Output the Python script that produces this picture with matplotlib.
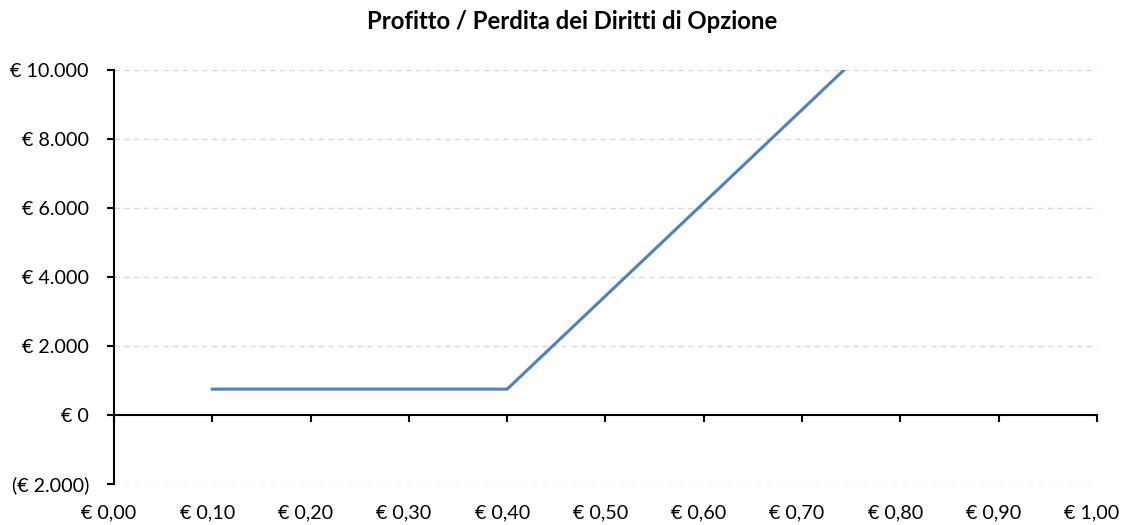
import matplotlib
matplotlib.use("Agg")
import matplotlib.pyplot as plt
from matplotlib.ticker import FuncFormatter, MultipleLocator
from matplotlib.transforms import ScaledTranslation

plt.rcParams['font.family'] = ['Lato', 'DejaVu Sans']

# prezzo del diritto e profitto/perdita
prezzi = [0.10, 0.20, 0.30, 0.40, 0.50, 0.60, 0.70, 0.80]
profitto = [750, 750, 750, 750, 3450, 6150, 8850, 11550]

titolo = "Profitto / Perdita dei Diritti di Opzione"


def fmt_euro(v, pos):
    s = f"{abs(v):,.0f}".replace(",", ".")
    if v < 0:
        return f"(€ {s})"
    return f"€ {s}"


def fmt_prezzo(v, pos):
    return "€ " + f"{v:.2f}".replace(".", ",")


fig = plt.figure(figsize=(11.22, 5.25), dpi=100)
ax = fig.add_axes([0.1016, 0.0781, 0.8761, 0.7886])

ax.plot(prezzi, profitto, color="#4F81BD", lw=2.2, zorder=3)

ax.set_xlim(0, 1.0)
ax.set_ylim(-2000, 10000)
ax.yaxis.set_major_locator(MultipleLocator(2000))
ax.xaxis.set_major_locator(MultipleLocator(0.1))
ax.yaxis.set_major_formatter(FuncFormatter(fmt_euro))

# griglia tratteggiata
for v in range(-2000, 10001, 2000):
    if v != 0:
        ax.axhline(v, color="#D9D9D9", lw=1, ls=(0, (4, 3)), zorder=1)

ax.spines['top'].set_visible(False)
ax.spines['right'].set_visible(False)
ax.spines['bottom'].set_position(('data', 0))
ax.spines['left'].set_linewidth(1.5)
ax.spines['bottom'].set_linewidth(1.5)
ax.tick_params(axis='x', direction='out', length=5, width=1.5, labelbottom=False)
ax.tick_params(axis='y', direction='out', length=5, width=1.5, labelsize=14.2, pad=13)

# etichette prezzo in fondo
sec = ax.secondary_xaxis('bottom')
sec.xaxis.set_major_locator(MultipleLocator(0.1))
sec.xaxis.set_major_formatter(FuncFormatter(fmt_prezzo))
sec.spines['bottom'].set_visible(False)
sec.tick_params(length=0, labelsize=14.2, pad=15)

fig.text(0.51, 0.945, titolo, ha='center', va='baseline', fontsize=17.2, fontweight='bold')

fig.canvas.draw()
shift = ScaledTranslation(-5 / 100, 0, fig.dpi_scale_trans)
for lbl in sec.get_xticklabels():
    lbl.set_transform(lbl.get_transform() + shift)

fig.savefig("out.png", dpi=100)
